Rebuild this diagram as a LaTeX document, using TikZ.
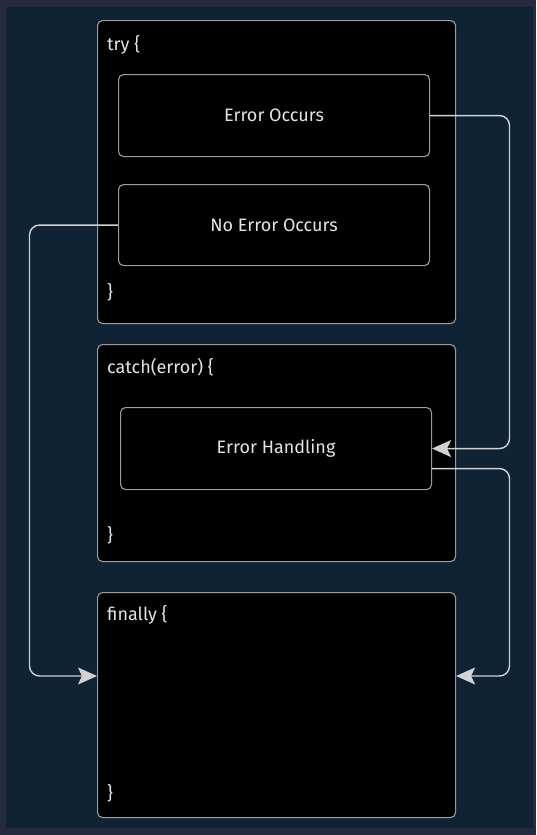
\documentclass[tikz,border=0pt]{standalone}
\usepackage{fontspec}
\setmainfont{Fira Sans}
\usetikzlibrary{arrows.meta}
\definecolor{framecol}{HTML}{262A40}
\definecolor{bgcol}{HTML}{0F2335}
\definecolor{edgecol}{HTML}{9C9C9C}
\definecolor{wirecol}{HTML}{D2D2D2}
\definecolor{textcol}{HTML}{E4E4E4}
\tikzset{
	block/.style = {draw=edgecol, fill=black, rounded corners=5pt, line width=1.1pt, inner sep=0pt, anchor=north west},
	outer/.style = {block, minimum width=358pt},
	inner/.style = {block, minimum width=311pt, minimum height=82pt, text=textcol, font=\fontsize{18}{21}\selectfont},
	caption/.style = {anchor=base west, inner sep=0pt, text=textcol, font=\fontsize{18}{21}\selectfont},
	wire/.style = {draw=wirecol, line width=1.4pt, rounded corners=10pt, -{Stealth[length=19pt, width=17pt, inset=4pt]}}
}

\begin{document}
\begin{tikzpicture}[x=1pt, y=-1pt]
% frame and background
\fill[framecol] (0,0) rectangle (536,835);
\fill[bgcol] (6,7) rectangle (533,828);
\useasboundingbox (0,0) rectangle (536,835);

% try
\node [outer, minimum height=303pt] (try) at (97,20) {};
\node [caption] (tryopen) at (107,50) {try \{};
\node [caption] (tryclose) at (107,298) {\}};
\node [inner] (occurs) at (118,74) {Error Occurs};
\node [inner, minimum height=81pt] (noerr) at (118,184) {No Error Occurs};

% catch
\node [outer, minimum height=217pt] (catch) at (97,344) {};
\node [caption] (catchopen) at (107,373) {catch(error) \{};
\node [caption] (catchclose) at (107,541) {\}};
\node [inner] (handling) at (120,407) {Error Handling};

% finally
\node [outer, minimum height=225pt] (fin) at (97,592) {};
\node [caption] (finopen) at (107,620) {finally \{};
\node [caption] (finclose) at (107,799) {\}};

\coordinate (rgt) at (509.5,0);
\coordinate (lft) at (29.5,0);
\coordinate (join) at (0,676);

\draw [wire] (occurs.east) -- (occurs.east -| rgt) -- (handling.east -| rgt) -- (handling.east);
\draw [wire] ([yshift=-20pt]handling.east) -- ([yshift=-20pt]handling.east -| rgt) -- (join -| rgt) -- (join -| fin.east);
\draw [wire] (noerr.west) -- (noerr.west -| lft) -- (join -| lft) -- (join -| fin.west);
\end{tikzpicture}
\end{document}
